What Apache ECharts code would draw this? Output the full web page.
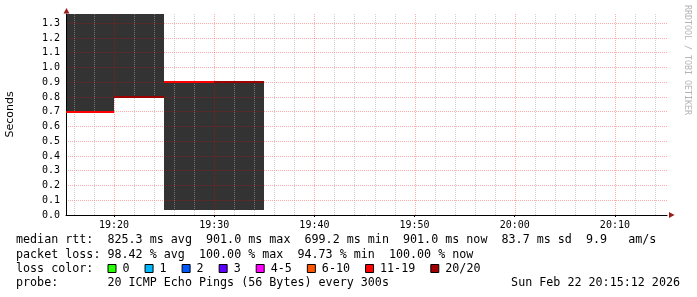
<!DOCTYPE html>
<html><head><meta charset="utf-8">
<script src="https://cdn.jsdelivr.net/npm/echarts@6/dist/echarts.min.js"></script>
<style>html,body{margin:0;padding:0;background:#fff}#c{width:697px;height:297px}</style>
</head><body><div id="c"></div>
<script>
// ---- data ----
const stepStarts = ['19:15', '19:20', '19:25', '19:30'];
const stepEnds   = ['19:20', '19:25', '19:30', '19:35'];
const medians    = [0.6992, 0.800, 0.901, 0.901];
const smokeLow   = [0.6992, 0.800, 0.036, 0.036];
const smokeHigh  = [1.50, 1.50, 0.901, 0.901];
const stepLoss   = ['11-19', '20/20', '11-19', '20/20'];
const lossLabels = ['0', '1', '2', '3', '4-5', '6-10', '11-19', '20/20'];
const lossColors = ['#26ff00', '#00b8ff', '#0059ff', '#5e00ff', '#ff00ff', '#ff5500', '#ff0000', '#a10000'];
const rangeStart = '19:15:12';
const rangeEnd   = '20:15:12';
const yMax = 1.362;
const statLines = [
  'median rtt:  825.3 ms avg  901.0 ms max  699.2 ms min  901.0 ms now  83.7 ms sd  9.9   am/s',
  'packet loss: 98.42 % avg  100.00 % max  94.73 % min  100.00 % now'
];
const lossTitle = 'loss color:';
const probeText = 'probe:       20 ICMP Echo Pings (56 Bytes) every 300s';
const dateText = 'Sun Feb 22 20:15:12 2026';
const sideText = 'RRDTOOL / TOBI OETIKER';

function T(s) { const p = s.split(':').map(Number); return new Date(2026, 1, 22, p[0], p[1], p[2] || 0).getTime(); }
function pad(n) { return (n < 10 ? '0' : '') + n; }

const smokeData = stepStarts.map((s, i) => [T(s), T(stepEnds[i]), smokeLow[i], smokeHigh[i]]);
const medianData = stepStarts.map((s, i) => [T(s), T(stepEnds[i]), medians[i], lossLabels.indexOf(stepLoss[i])]);

// vertical grid every 2 minutes; every 10 minutes is a major line
const MIN = 60000;
const vGrid = [];
for (let t = Math.ceil(T(rangeStart) / (2 * MIN)) * 2 * MIN; t < T(rangeEnd); t += 2 * MIN) {
  vGrid.push([t, new Date(t).getMinutes() % 10 === 0 ? 1 : 0]);
}

const MONO = 'DejaVu Sans Mono';
const redGrid = 'rgba(255,0,0,0.33)';
const grayGrid = 'rgba(170,170,170,0.55)';

const chart = echarts.init(document.getElementById('c'), null, { renderer: 'canvas' });

const FONT = '11.7px "' + MONO + '"';
const graphics = [];
statLines.forEach((t, i) => graphics.push({
  type: 'text', x: 16, y: 240 + i * 15, z: 10,
  style: { text: t, font: FONT, fill: '#000', textVerticalAlign: 'middle' }
}));
graphics.push({ type: 'text', x: 16, y: 269, z: 10, style: { text: lossTitle, font: FONT, fill: '#000', textVerticalAlign: 'middle' } });
let lx = 107.5;
lossLabels.forEach((lab, i) => {
  graphics.push({ type: 'rect', shape: { x: lx + 0.5, y: 264.5, width: 8, height: 8 }, z: 10,
    style: { fill: lossColors[i], stroke: '#000', lineWidth: 1 } });
  graphics.push({ type: 'text', x: lx + 15, y: 269, z: 10,
    style: { text: lab, font: FONT, fill: '#000', textVerticalAlign: 'middle' } });
  lx += 30 + lab.length * 7.05;
});
graphics.push({ type: 'text', x: 16, y: 283, z: 10, style: { text: probeText, font: FONT, fill: '#000', textVerticalAlign: 'middle' } });
graphics.push({ type: 'text', x: 680, y: 283, z: 10, style: { text: dateText, font: FONT, fill: '#000', textAlign: 'right', textVerticalAlign: 'middle' } });
graphics.push({ type: 'text', x: 687, y: 60, rotation: -Math.PI / 2, z: 10,
  style: { text: sideText, font: '8.3px "' + MONO + '"', fill: '#b4b4b4', textAlign: 'center', textVerticalAlign: 'middle' } });
// axis arrows
graphics.push({ type: 'polygon', z: 10, shape: { points: [[63.5, 13.5], [69.5, 13.5], [66.5, 8]] }, style: { fill: '#9b1c1c' } });
graphics.push({ type: 'polygon', z: 10, shape: { points: [[669, 212], [669, 218], [674.5, 215]] }, style: { fill: '#9b1c1c' } });

function snapRect(a, b, cs) {
  const x0 = Math.round(a[0]), x1 = Math.round(b[0]);
  const y0 = Math.round(a[1]), y1 = Math.round(b[1]);
  return echarts.graphic.clipRectByRect(
    { x: x0, y: y0, width: x1 - x0, height: y1 - y0 },
    { x: cs.x, y: cs.y, width: cs.width, height: cs.height });
}

chart.setOption({
  animation: false,
  backgroundColor: '#fff',
  grid: { left: 66, right: 30, top: 14, bottom: 82, containLabel: false, outerBoundsMode: 'none' },
  xAxis: {
    type: 'time', min: T(rangeStart), max: T(rangeEnd), z: 3,
    minInterval: 11 * MIN, maxInterval: 11 * MIN,
    axisLine: { show: true, lineStyle: { color: '#000', width: 1 } },
    axisTick: { show: true, length: 2, lineStyle: { color: '#000' } },
    axisLabel: {
      formatter: v => { const d = new Date(v); return pad(d.getHours()) + ':' + pad(d.getMinutes()); },
      fontFamily: MONO, fontSize: 10, color: '#000', margin: 5, showMinLabel: false, showMaxLabel: false
    },
    splitLine: { show: false }
  },
  yAxis: {
    type: 'value', min: 0, max: yMax, interval: 0.1, z: 3,
    axisLine: { show: true, lineStyle: { color: '#000', width: 1 } },
    axisTick: { show: false },
    axisLabel: { formatter: v => v.toFixed(1), showMaxLabel: false, fontFamily: MONO, fontSize: 10, color: '#000', margin: 6 },
    splitLine: { show: true, showMaxLine: false, lineStyle: { color: redGrid, width: 1, type: [1, 1] } },
    name: 'Seconds', nameLocation: 'middle', nameGap: 50, nameRotate: 90,
    nameTextStyle: { fontFamily: 'DejaVu Sans', fontSize: 11, color: '#000' }
  },
  series: [
    {
      type: 'custom', name: 'smoke', z: 2, data: smokeData,
      encode: { x: [0, 1], y: [2, 3] },
      renderItem: function (params, api) {
        const r = snapRect(api.coord([api.value(0), api.value(3)]), api.coord([api.value(1), api.value(2)]), params.coordSys);
        return r && { type: 'rect', shape: r, style: { fill: '#333333' } };
      }
    },
    {
      type: 'custom', name: 'vgrid', z: 3, data: vGrid, silent: true,
      encode: { x: 0 },
      renderItem: function (params, api) {
        const cs = params.coordSys;
        const x = Math.round(api.coord([api.value(0), 0])[0]) + 0.5;
        return { type: 'line', shape: { x1: x, y1: cs.y, x2: x, y2: cs.y + cs.height },
          style: { stroke: api.value(1) ? redGrid : grayGrid, lineWidth: 1, lineDash: [1, 1] } };
      }
    },
    {
      type: 'custom', name: 'median', z: 5, data: medianData,
      encode: { x: [0, 1], y: 2 },
      renderItem: function (params, api) {
        const a = api.coord([api.value(0), api.value(2)]);
        const b = api.coord([api.value(1), api.value(2)]);
        const r = snapRect([a[0], a[1] - 1], [b[0], b[1] + 1], params.coordSys);
        return r && { type: 'rect', shape: r, style: { fill: lossColors[api.value(3)] } };
      }
    }
  ],
  graphic: graphics
});
</script></body></html>
